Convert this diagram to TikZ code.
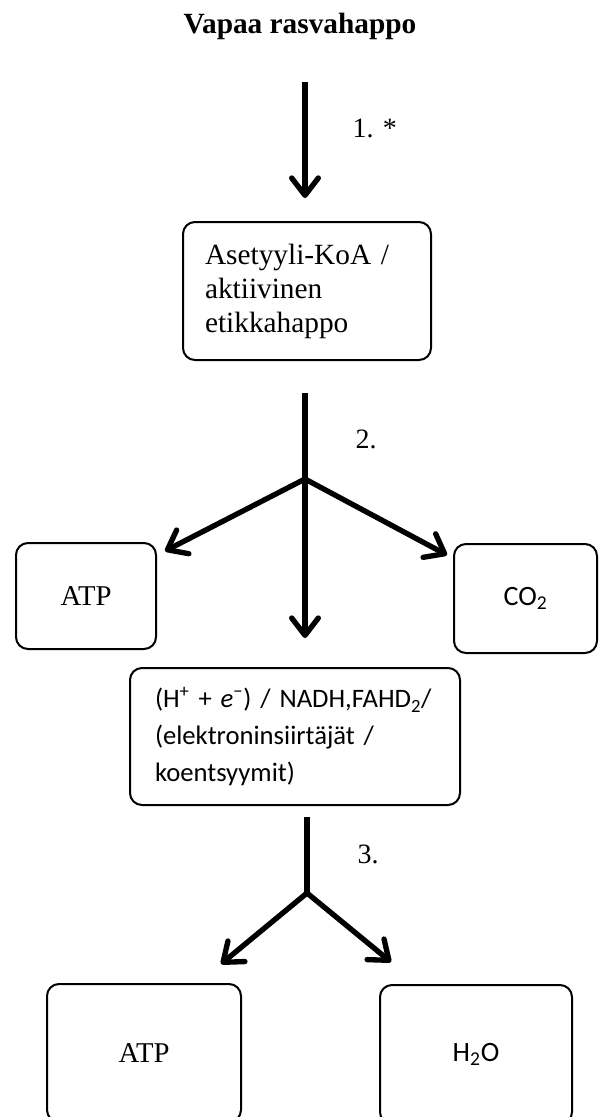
\documentclass[tikz,border=0pt]{standalone}
\usepackage{fontspec}
\setmainfont{Liberation Serif}
\newfontfamily\calibrifont{Carlito}
\usetikzlibrary{arrows.meta}

\tikzset{every picture/.style={line width=0.75pt}}
\tikzset{
  box/.style={draw, line width=1.5pt, rounded corners=9pt},
  flow/.style={line width=4pt, -{Straight Barb[length=13pt,width=20pt,round]}},
  lbl/.style={anchor=base west, inner sep=0pt, font=\fontsize{21pt}{25pt}\selectfont}
}

\begin{document}
\begin{tikzpicture}[x=0.75pt,y=0.75pt,yscale=-1,xscale=1]
	\useasboundingbox (0,0) rectangle (602,1117);

	% Text Node
	\node (title) [anchor=base, inner sep=0pt, font=\fontsize{22pt}{26pt}\selectfont\bfseries] at (300,33) {Vapaa rasvahappo};

	%Shape: Rounded Rect
	\node (acetyl) [box, minimum width=186pt, minimum height=103.5pt, text width=153pt, inner xsep=16.5pt, align=left, font=\fontsize{22pt}{25.5pt}\selectfont] at (307,291) {Asetyyli-KoA /\\ aktiivinen\\ etikkahappo};
	%Shape: Rounded Rect
	\node (atp1) [box, minimum width=105pt, minimum height=79.5pt, font=\fontsize{21.5pt}{24pt}\selectfont] at (86,596) {ATP};
	%Shape: Rounded Rect
	\node (co2) [box, minimum width=107.25pt, minimum height=81.75pt, font=\calibrifont\fontsize{21pt}{24pt}\selectfont] at (525.5,598.5) {CO\textsubscript{2}};
	%Shape: Rounded Rect
	\node (carrier) [box, minimum width=247.5pt, minimum height=102.75pt, text width=210pt, inner xsep=18.75pt, align=left, font=\calibrifont\fontsize{20pt}{27.4pt}\selectfont] at (295,736.5) {(H\textsuperscript{+} + \textit{e}\textsuperscript{−}) / NADH,FAHD\textsubscript{2}/\\ (elektroninsiirtäjät /\\ koentsyymit)};
	%Shape: Rounded Rect
	\node (atp2) [box, minimum width=145.5pt, minimum height=103.5pt, font=\fontsize{21.5pt}{24pt}\selectfont] at (144,1053) {ATP};
	%Shape: Rounded Rect
	\node (water) [box, minimum width=144pt, minimum height=104.25pt, font=\calibrifont\fontsize{21pt}{24pt}\selectfont] at (476,1054.5) {H\textsubscript{2}O};

	%Straight Lines
	\coordinate (s1) at (305,82);
	\coordinate (t1) at (305,198);
	\draw [flow] (s1) -- (t1);
	\node (n1) [lbl] at (352,137) {1. *};

	%Straight Lines
	\coordinate (s2) at (305,393);
	\coordinate (br2) at (305,479);
	\coordinate (t2l) at (165,551);
	\coordinate (t2r) at (447,555);
	\coordinate (t2m) at (305,638);
	\draw [line width=4pt] (s2) -- (br2);
	\draw [flow] (br2) -- (t2l);
	\draw [flow] (br2) -- (t2r);
	\draw [flow] (br2) -- (t2m);
	\node (n2) [lbl] at (355,448) {2.};

	%Straight Lines
	\coordinate (s3) at (307,817);
	\coordinate (br3) at (307,893);
	\coordinate (t3l) at (221,964);
	\coordinate (t3r) at (391,962);
	\draw [line width=4pt] (s3) -- (br3);
	\draw [flow] (br3) -- (t3l);
	\draw [flow] (br3) -- (t3r);
	\node (n3) [lbl] at (357,863) {3.};

\end{tikzpicture}
\end{document}
